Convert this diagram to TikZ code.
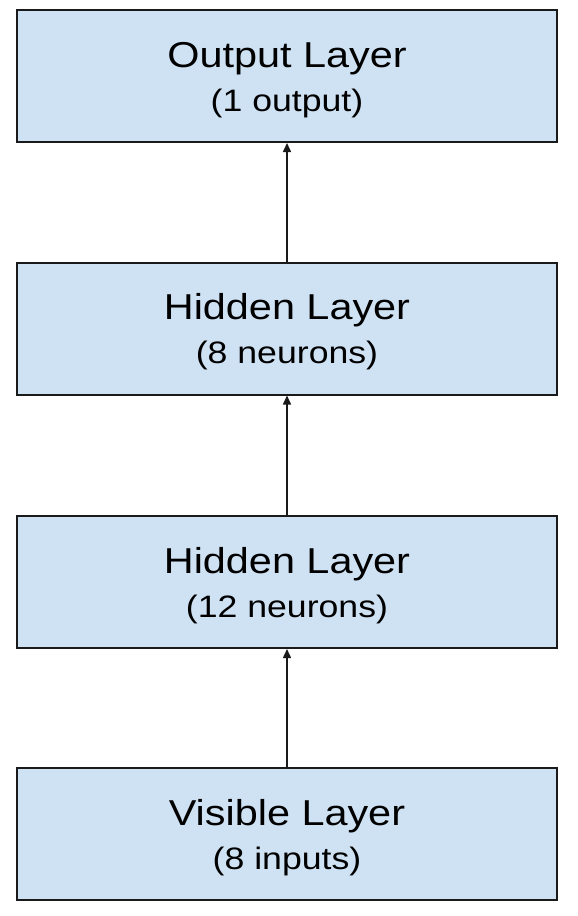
\documentclass[tikz,border=0pt]{standalone}
\usepackage{fontspec}
\setmainfont{Liberation Sans}
\newfontfamily\widefont[FakeStretch=1.15]{Liberation Sans}
\usetikzlibrary{arrows.meta}
\definecolor{boxfill}{HTML}{CFE2F3}
\definecolor{boxline}{HTML}{1A1A1A}
\tikzset{
  layerbox/.style={draw=boxline, line width=2pt, fill=boxfill, minimum width=540pt, minimum height=132pt, inner sep=0pt, align=center,
    font=\widefont\fontsize{31}{44}\selectfont},
  conn/.style={draw=boxline, line width=1.5pt, -{Triangle[length=9pt,width=8pt]}},
}
\newcommand{\bigline}[1]{\rule{0pt}{32.5pt}{\fontsize{36}{44}\selectfont #1}}
\newcommand{\smallline}[1]{{\fontsize{31}{44}\selectfont #1}}
\begin{document}
\begin{tikzpicture}[x=1pt,y=-1pt]
\useasboundingbox (0,0) rectangle (578,916);
\node[layerbox] (out) at (287,76) {\bigline{Output Layer}\\\smallline{(1 output)}};
\node[layerbox] (h2) at (287,328.5) {\bigline{Hidden Layer}\\\smallline{(8 neurons)}};
\node[layerbox] (h1) at (287,582) {\bigline{Hidden Layer}\\\smallline{(12 neurons)}};
\node[layerbox] (vis) at (287,834) {\bigline{Visible Layer}\\\smallline{(8 inputs)}};
\draw[conn] (h2) -- (out);
\draw[conn] (h1) -- (h2);
\draw[conn] (vis) -- (h1);
\end{tikzpicture}
\end{document}
